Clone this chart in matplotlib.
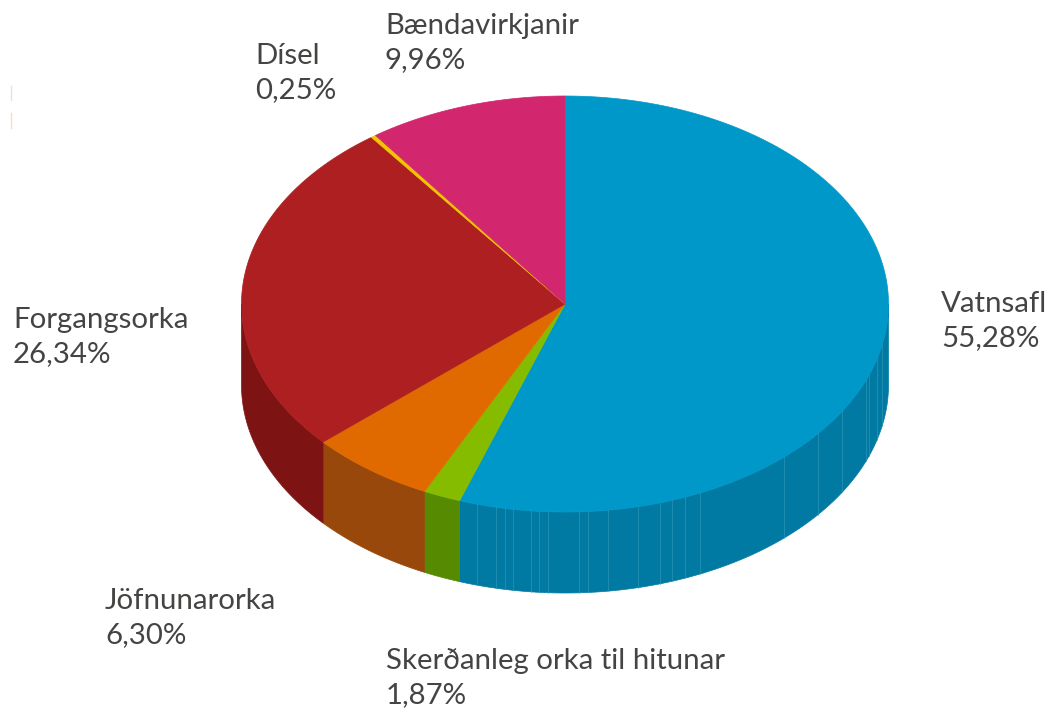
import numpy as np
import matplotlib
matplotlib.use("Agg")
import matplotlib.pyplot as plt
from matplotlib.patches import Polygon

names = ["Vatnsafl", "Skerðanleg orka til hitunar", "Jöfnunarorka", "Forgangsorka", "Dísel", "Bændavirkjanir"]
values = [55.28, 1.87, 6.30, 26.34, 0.25, 9.96]
value_labels = ["55,28%", "1,87%", "6,30%", "26,34%", "0,25%", "9,96%"]
top_colours = ["#0098C9", "#86BC00", "#E06A00", "#AD1F21", "#F2C500", "#D2266E"]
side_colours = ["#007AA3", "#568A00", "#98480A", "#7E1314", "#A88900", "#9A1A50"]
label_pos = [(941, 321), (386, 678), (105, 618), (13, 337), (255, 73), (385, 43)]
# x positions of the thin light seams on the blue wall
facet_x = [477, 496, 505, 513, 531, 539, 548, 579, 588, 608, 638, 660, 672, 685, 700,
           784, 818, 842, 866, 869, 877, 882]

cx, cy, rx, ry, depth = 565, 304, 323.5, 208, 81


def rim(a0, a1, n=200):
    '''Points on the top ellipse, angles in degrees clockwise from 12 o'clock'''
    t = np.radians(np.linspace(a0, a1, n))
    return cx + rx * np.sin(t), cy - ry * np.cos(t)


fig = plt.figure(figsize=(10.53, 7.12), dpi=100)
ax = fig.add_axes([0, 0, 1, 1])
ax.set_xlim(0, 1053)
ax.set_ylim(712, 0)
ax.axis("off")

edges = np.concatenate([[0], np.cumsum(values)]) / sum(values) * 360

# side walls, only the front half of the ellipse shows
for i in range(len(values)):
    a0, a1 = max(edges[i], 90), min(edges[i + 1], 270)
    if a1 <= a0:
        continue
    x, y = rim(a0, a1)
    pts = np.column_stack([np.r_[x, x[::-1]], np.r_[y, y[::-1] + depth]])
    ax.add_patch(Polygon(pts, fc=side_colours[i], ec=side_colours[i], lw=0.5))

# seams on the blue wall
for fx in facet_x:
    fy = cy + ry * np.sqrt(1 - ((fx - cx) / rx) ** 2)
    ax.plot([fx, fx], [fy, fy + depth], color="#3A9DBF", lw=0.7, alpha=0.55)

# top face
for i in range(len(values)):
    x, y = rim(edges[i], edges[i + 1])
    pts = np.column_stack([np.r_[cx, x], np.r_[cy, y]])
    ax.add_patch(Polygon(pts, fc=top_colours[i], ec=top_colours[i], lw=0.5))

for name, val, (lx, ly) in zip(names, value_labels, label_pos):
    ax.text(lx, ly, name + "\n" + val, family="Lato", fontsize=21.2, color="#444443",
            va="center", ha="left", linespacing=1.38)

# faint scan marks at the left edge of the source image
ax.plot([11, 11], [86, 100], color="#F3DCD2", lw=1)
ax.plot([11, 11], [113, 128], color="#F3DCD2", lw=1)

fig.savefig("out.png", dpi=100)
